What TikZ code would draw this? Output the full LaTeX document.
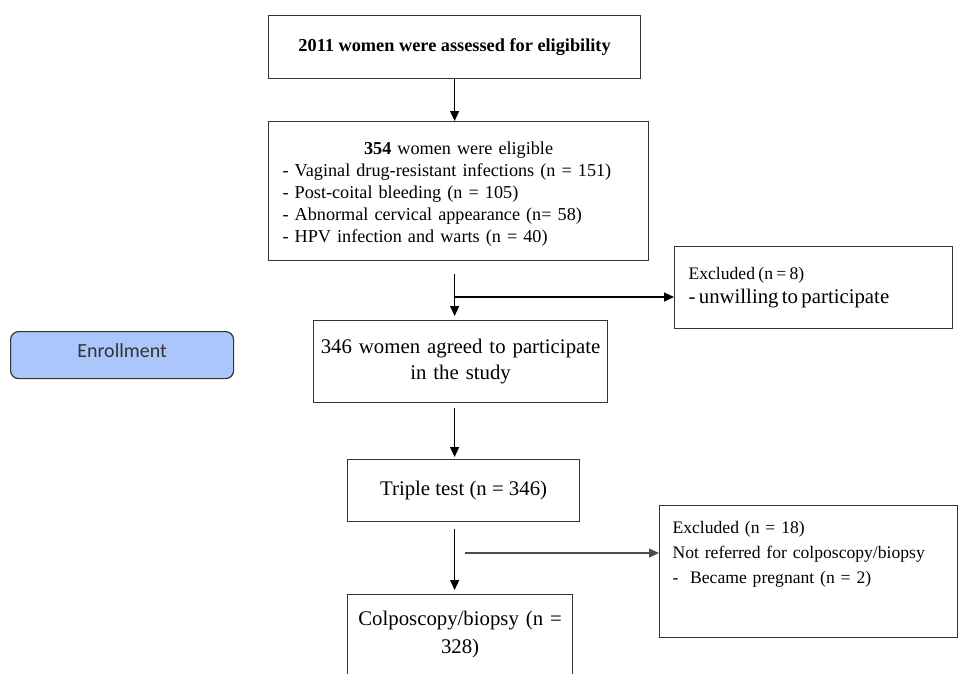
\documentclass[tikz,border=0pt]{standalone}
\usepackage{fontspec}
\setmainfont{Liberation Serif}
\newfontfamily\carlito{Carlito}
\usetikzlibrary{arrows.meta}
\definecolor{enrollblue}{RGB}{170,198,250}

\begin{document}
\begin{tikzpicture}[x=1pt, y=-1pt,
    box/.style={draw=black!80, line width=1.2pt, anchor=north west, inner sep=0pt},
    arr/.style={-{Triangle[length=10pt,width=9pt]}, line width=1.2pt},
    big/.style={font=\fontsize{20.8}{26}\selectfont},
    small/.style={font=\fontsize{17.6}{25}\selectfont}]
  \useasboundingbox (0,0) rectangle (958,673);
  \clip (0,0) rectangle (958,673);

  \node[box, minimum width=372pt, minimum height=63pt,
    font=\fontsize{18.3}{22}\selectfont\bfseries] (assess) at (268,15)
    {2011 women were assessed for eligibility};
  \node[box, minimum width=380pt, inner xsep=14pt, inner ysep=20pt,
    text width=352pt, align=left, text depth=86pt,
    font=\fontsize{18.2}{22}\selectfont] (elig) at (268,121)
    {{\centering\textbf{354} women were eligible\par}
     - Vaginal drug-resistant infections (n = 151)\\
     - Post-coital bleeding (n = 105)\\
     - Abnormal cervical appearance (n= 58)\\
     - HPV infection and warts (n = 40)};
  \node[box, minimum width=278pt, minimum height=82pt, inner xsep=14pt,
    text width=250pt, align=left] (excl1) at (674,246)
    {{\fontsize{17.6}{21}\selectfont Excluded (n = 8)}\\[4pt]
     {\fontsize{20.8}{26}\selectfont - unwilling to participate}};
  \node[box, minimum width=223pt, minimum height=47pt, rounded corners=8pt,
    fill=enrollblue, text=black!80, text depth=9pt,
    font=\carlito\fontsize{20}{24}\selectfont] (enroll) at (10,331)
    {Enrollment};
  \node[box, big, minimum width=294pt, minimum height=82pt,
    text width=280pt, align=center] (agree) at (313,320)
    {346 women agreed to participate\\in the study};
  \node[box, big, minimum width=232pt, minimum height=62pt] (triple) at (347,459)
    {Triple test (n = 346)};
  \node[box, small, inner xsep=13pt, inner ysep=16pt, text width=272pt,
    align=left, text depth=88pt] (excl2) at (659,505)
    {Excluded (n = 18)\\
     Not referred for colposcopy/biopsy\\
     -~ Became pregnant (n = 2)};
  \node[box, font=\fontsize{20.8}{28}\selectfont, inner xsep=8pt, inner ysep=16pt,
    text width=209pt, align=center, text depth=80pt] (colpo) at (347,594)
    {Colposcopy/biopsy (n =\\328)};

  % arrows
  \coordinate (cut1) at (454,297);
  \coordinate (cut2) at (465,553);
  \draw[arr] (assess.south) -- (assess.south |- elig.north);
  \draw[arr, shorten <=13pt, shorten >=4pt] (elig.south -| assess.south) -- (agree.north -| assess.south);
  \draw[arr] (cut1) -- (cut1 -| excl1.west);
  \draw[arr, shorten <=5pt, shorten >=2pt] (agree.south -| assess.south) -- (triple.north -| assess.south);
  \draw[arr, shorten <=7pt, shorten >=4pt] (triple.south -| assess.south) -- (colpo.north -| assess.south);
  \draw[arr, black!70] (cut2) -- (cut2 -| excl2.west);
\end{tikzpicture}
\end{document}
